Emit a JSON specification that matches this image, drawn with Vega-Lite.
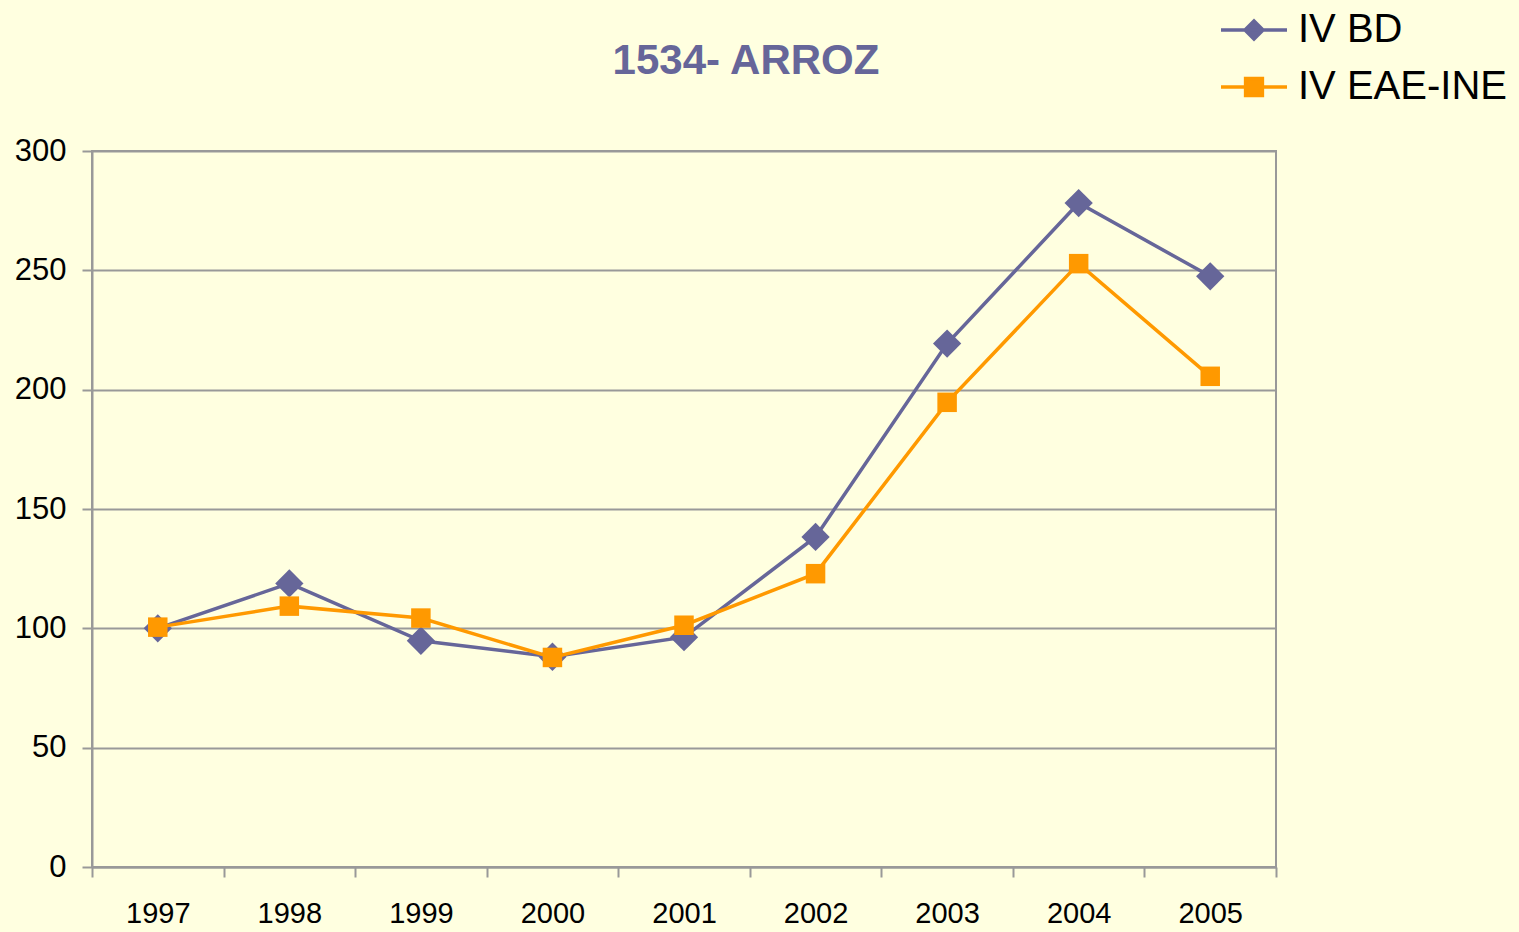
{
  "$schema": "https://vega.github.io/schema/vega-lite/v6.json",
  "width": 1184,
  "height": 716,
  "autosize": {"type": "none"},
  "padding": {"left": 92, "top": 151, "right": 243, "bottom": 65},
  "background": "#FFFFE0",
  "config": {
    "font": "Liberation Sans",
    "view": {"stroke": "#999999", "strokeWidth": 2}
  },
  "title": {
    "text": "1534- ARROZ",
    "font": "Liberation Sans",
    "fontSize": 42,
    "fontWeight": "bold",
    "color": "#666699",
    "anchor": "middle",
    "frame": "group",
    "dx": 62,
    "dy": 127,
    "offset": 19,
    "baseline": "alphabetic"
  },
  "data": {
    "values": [
      {"year": "1997", "series": "IV BD", "value": 100},
      {"year": "1998", "series": "IV BD", "value": 118.8},
      {"year": "1999", "series": "IV BD", "value": 94.8},
      {"year": "2000", "series": "IV BD", "value": 88.1},
      {"year": "2001", "series": "IV BD", "value": 96.3},
      {"year": "2002", "series": "IV BD", "value": 138.3},
      {"year": "2003", "series": "IV BD", "value": 219.3},
      {"year": "2004", "series": "IV BD", "value": 278.2},
      {"year": "2005", "series": "IV BD", "value": 247.5},
      {"year": "1997", "series": "IV EAE-INE", "value": 100.5},
      {"year": "1998", "series": "IV EAE-INE", "value": 109.3},
      {"year": "1999", "series": "IV EAE-INE", "value": 104.3},
      {"year": "2000", "series": "IV EAE-INE", "value": 87.8},
      {"year": "2001", "series": "IV EAE-INE", "value": 101.3},
      {"year": "2002", "series": "IV EAE-INE", "value": 122.9},
      {"year": "2003", "series": "IV EAE-INE", "value": 194.7},
      {"year": "2004", "series": "IV EAE-INE", "value": 252.8},
      {"year": "2005", "series": "IV EAE-INE", "value": 205.6}
    ]
  },
  "encoding": {
    "x": {
      "field": "year",
      "type": "ordinal",
      "bandPosition": 0.5,
      "scale": {"type": "band", "paddingInner": 0, "paddingOuter": 0},
      "axis": {
        "title": null,
        "labelAngle": 0,
        "labelFontSize": 29,
        "labelColor": "#000000",
        "labelFont": "Liberation Sans",
        "labelPadding": 22,
        "tickBand": "extent",
        "tickSize": 10,
        "tickColor": "#999999",
        "tickWidth": 2,
        "domainColor": "#999999",
        "domainWidth": 2,
        "grid": false
      }
    },
    "y": {
      "field": "value",
      "type": "quantitative",
      "scale": {"domain": [0, 300], "nice": false},
      "axis": {
        "title": null,
        "values": [0, 50, 100, 150, 200, 250, 300],
        "labelFontSize": 31,
        "labelColor": "#000000",
        "labelFont": "Liberation Sans",
        "labelPadding": 16,
        "tickSize": 10,
        "tickColor": "#999999",
        "tickWidth": 2,
        "domainColor": "#999999",
        "domainWidth": 2,
        "grid": true,
        "gridColor": "#999999",
        "gridWidth": 2,
        "gridOpacity": 1
      }
    }
  },
  "layer": [
    {
      "transform": [{"filter": "datum.series === 'IV BD'"}],
      "encoding": {
        "color": {
          "field": "series",
          "type": "nominal",
          "scale": {"domain": ["IV BD"], "range": ["#666699"]},
          "legend": {
            "title": null,
            "orient": "none",
            "legendX": 1140,
            "legendY": -143,
            "padding": 0,
            "labelFontSize": 40,
            "labelFont": "Liberation Sans",
            "labelColor": "#000000",
            "labelOffset": 22,
            "labelLimit": 500,
            "symbolSize": 1600,
            "symbolType": "M-1.65,0L1.65,0M0,-0.45L0.45,0L0,0.45L-0.45,0Z",
            "symbolFillColor": "#666699",
            "symbolStrokeColor": "#666699",
            "symbolStrokeWidth": 3.5,
            "symbolOpacity": 1
          }
        }
      },
      "layer": [
        {"mark": {"type": "line", "strokeWidth": 3.5}},
        {"mark": {"type": "point", "shape": "diamond", "size": 800, "filled": true, "opacity": 1}}
      ]
    },
    {
      "transform": [{"filter": "datum.series === 'IV EAE-INE'"}],
      "encoding": {
        "color": {
          "field": "series",
          "type": "nominal",
          "scale": {"domain": ["IV EAE-INE"], "range": ["#FF9900"]},
          "legend": {
            "title": null,
            "orient": "none",
            "legendX": 1140,
            "legendY": -86,
            "padding": 0,
            "labelFontSize": 40,
            "labelFont": "Liberation Sans",
            "labelColor": "#000000",
            "labelOffset": 22,
            "labelLimit": 500,
            "symbolSize": 1600,
            "symbolType": "M-1.65,0L1.65,0M-0.42,-0.42L0.42,-0.42L0.42,0.42L-0.42,0.42Z",
            "symbolFillColor": "#FF9900",
            "symbolStrokeColor": "#FF9900",
            "symbolStrokeWidth": 3.5,
            "symbolOpacity": 1
          }
        }
      },
      "layer": [
        {"mark": {"type": "line", "strokeWidth": 3.5}},
        {"mark": {"type": "point", "shape": "square", "size": 380, "filled": true, "opacity": 1}}
      ]
    }
  ],
  "resolve": {"scale": {"color": "independent"}, "legend": {"color": "independent"}}
}
